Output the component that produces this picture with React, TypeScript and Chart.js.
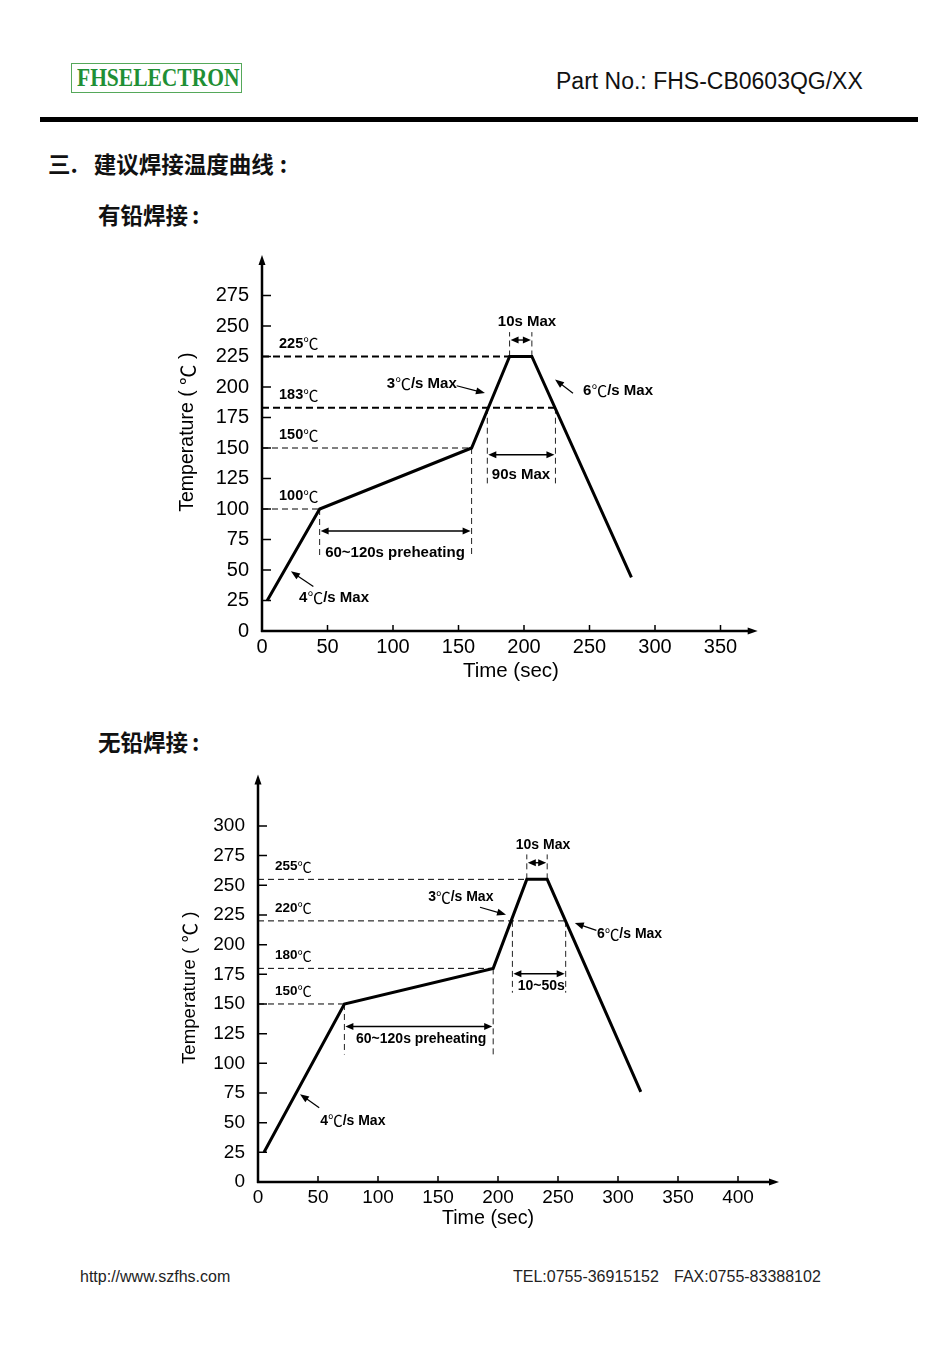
import React, { useEffect, useRef } from "react";
import { Chart, registerables } from "chart.js";

Chart.register(...registerables);

// ---- Leaded (Sn-Pb) reflow profile ----
const leadTimes = [4, 44, 160, 189, 206, 282];
const leadTemps = [25, 100, 150, 225, 225, 44];
const leadXTicks = [0, 50, 100, 150, 200, 250, 300, 350];
const leadYTicks = [0, 25, 50, 75, 100, 125, 150, 175, 200, 225, 250, 275];
const leadLevels = [225, 183, 150, 100];
const leadLevelEnds = [189, 224, 160, 44];
const leadHeavyLevels = [225, 183];

// ---- Lead-free reflow profile ----
const freeTimes = [5, 72, 196, 224, 241, 319];
const freeTemps = [25, 150, 180, 255, 255, 76];
const freeXTicks = [0, 50, 100, 150, 200, 250, 300, 350, 400];
const freeYTicks = [0, 25, 50, 75, 100, 125, 150, 175, 200, 225, 250, 275, 300];
const freeLevels = [255, 220, 180, 150];
const freeLevelEnds = [224, 257, 196, 72];
const freeHeavyLevels: number[] = [];

const SANS = '"Liberation Sans", Arial, "Noto Sans CJK SC", sans-serif';
const CJK = '"Noto Sans CJK SC", "Noto Sans CJK TC", sans-serif';

type Note = { text: string; t: number; v: number };

interface Profile {
  times: number[];
  temps: number[];
  xTicks: number[];
  yTicks: number[];
  xMax: number;
  yMax: number;
  levels: number[];
  levelEnds: number[];
  heavy: number[];
  drops: number[][]; // [time, fromTemp, toTemp]
  spans: number[][]; // [t1, t2, temp]
  pointers: number[][]; // [tailT, tailV, tipT, tipV]
  notes: Note[];
  noteSize: number;
  tickSize: number;
  titleSize: number;
  yTitleDx: number;
  yTitleAt: number;
  xTitleAt: number;
  xTitleDy: number;
  pad: { top: number; right: number };
  yWidth: number;
  xHeight: number;
  lineWidth: number;
}

const leadProfile: Profile = {
  times: leadTimes,
  temps: leadTemps,
  xTicks: leadXTicks,
  yTicks: leadYTicks,
  xMax: 370,
  yMax: 300,
  levels: leadLevels,
  levelEnds: leadLevelEnds,
  heavy: leadHeavyLevels,
  drops: [
    [44, 100, 61],
    [160, 150, 61],
    [172, 183, 121],
    [224, 183, 121],
    [189, 225, 245],
    [206, 225, 245],
  ],
  spans: [
    [44, 160, 82],
    [172, 224, 144.5],
    [189, 206, 238.5],
  ],
  pointers: [
    [148.6, 201, 170.2, 195],
    [237.4, 194.8, 223.7, 206.2],
    [39.2, 36.5, 22.1, 48.9],
  ],
  notes: [
    { text: "10s Max", t: 202.3, v: 253 },
    { text: "90s Max", t: 197.7, v: 128 },
    { text: "60~120s preheating", t: 101.5, v: 64 },
    { text: "3℃/s Max", t: 122, v: 202.3 },
    { text: "6℃/s Max", t: 271.8, v: 197 },
    { text: "4℃/s Max", t: 55, v: 26.8 },
  ],
  noteSize: 15,
  tickSize: 20,
  titleSize: 19.5,
  yTitleDx: -74,
  yTitleAt: 163,
  xTitleAt: 190,
  xTitleDy: 40,
  pad: { top: 21.4, right: 23.3 },
  yWidth: 112,
  xHeight: 69,
  lineWidth: 3,
};

const freeProfile: Profile = {
  times: freeTimes,
  temps: freeTemps,
  xTicks: freeXTicks,
  yTicks: freeYTicks,
  xMax: 425,
  yMax: 335,
  levels: freeLevels,
  levelEnds: freeLevelEnds,
  heavy: freeHeavyLevels,
  drops: [
    [72, 150, 107.4],
    [196, 180, 107.4],
    [212, 220, 159.5],
    [256.4, 220, 159.5],
    [224, 255, 276],
    [241, 255, 276],
  ],
  spans: [
    [72, 196, 131],
    [212, 256.4, 175.5],
    [224, 241, 269],
  ],
  pointers: [
    [185, 231.5, 206.7, 225.2],
    [282, 212, 264, 218.2],
    [51, 62.5, 35, 74],
  ],
  notes: [
    { text: "10s Max", t: 237.5, v: 284 },
    { text: "10~50s", t: 236, v: 165 },
    { text: "60~120s preheating", t: 136, v: 120 },
    { text: "3℃/s Max", t: 169, v: 240 },
    { text: "6℃/s Max", t: 309.6, v: 208.5 },
    { text: "4℃/s Max", t: 79, v: 51.5 },
  ],
  noteSize: 14,
  tickSize: 19,
  titleSize: 18.7,
  yTitleDx: -68,
  yTitleAt: 163.6,
  xTitleAt: 191.7,
  xTitleDy: 37,
  pad: { top: 19, right: 22 },
  yWidth: 108,
  xHeight: 58,
  lineWidth: 3,
};

function arrowHead(
  ctx: CanvasRenderingContext2D,
  x: number,
  y: number,
  ang: number,
  len: number,
  half: number
) {
  const c = Math.cos(ang);
  const s = Math.sin(ang);
  ctx.beginPath();
  ctx.moveTo(x, y);
  ctx.lineTo(x - len * c + half * s, y - len * s - half * c);
  ctx.lineTo(x - len * c - half * s, y - len * s + half * c);
  ctx.closePath();
  ctx.fill();
}

// Writes text whose degree-Celsius sign comes from the CJK face.
function fillMixed(
  ctx: CanvasRenderingContext2D,
  text: string,
  x: number,
  y: number,
  size: number,
  weight: string,
  align: "left" | "center"
) {
  const parts = text.split(/(℃)/).filter((s) => s.length > 0);
  const fontOf = (s: string) =>
    s === "℃" ? `normal ${size * 1.05}px ${CJK}` : `${weight} ${size}px ${SANS}`;
  const widths = parts.map((s) => {
    ctx.font = fontOf(s);
    return ctx.measureText(s).width;
  });
  const total = widths.reduce((a, b) => a + b, 0);
  let cx = align === "center" ? x - total / 2 : x;
  ctx.textAlign = "left";
  ctx.textBaseline = "middle";
  parts.forEach((s, i) => {
    ctx.font = fontOf(s);
    ctx.fillText(s, cx, y);
    cx += widths[i];
  });
}

function profileMarks(p: Profile) {
  return {
    id: "profileMarks",
    beforeDatasetsDraw(chart: any) {
      const ctx: CanvasRenderingContext2D = chart.ctx;
      const xs = chart.scales.x;
      const ys = chart.scales.y;
      const X = (v: number) => xs.getPixelForValue(v);
      const Y = (v: number) => ys.getPixelForValue(v);
      ctx.save();
      ctx.strokeStyle = "#000";
      ctx.fillStyle = "#000";

      // dashed temperature levels with their labels
      p.levels.forEach((lv, i) => {
        const heavy = p.heavy.includes(lv);
        ctx.lineWidth = heavy ? 2 : 1;
        ctx.setLineDash(heavy ? [7, 4] : [6, 4]);
        ctx.beginPath();
        ctx.moveTo(X(0), Y(lv));
        ctx.lineTo(X(p.levelEnds[i]), Y(lv));
        ctx.stroke();
        ctx.setLineDash([]);
        fillMixed(ctx, `${lv}℃`, X(0) + 17, Y(lv) - 13, p.noteSize - 0.5, "bold", "left");
      });

      // vertical dashed guides
      ctx.lineWidth = 1;
      ctx.strokeStyle = "#222";
      ctx.setLineDash([6, 4]);
      p.drops.forEach(([t, a, b]) => {
        ctx.beginPath();
        ctx.moveTo(X(t), Y(a));
        ctx.lineTo(X(t), Y(b));
        ctx.stroke();
      });
      ctx.setLineDash([]);
      ctx.strokeStyle = "#000";

      // double-headed duration arrows
      ctx.lineWidth = 1.4;
      p.spans.forEach(([t1, t2, v]) => {
        const x1 = X(t1) + 1;
        const x2 = X(t2) - 1;
        const y = Y(v);
        ctx.beginPath();
        ctx.moveTo(x1 + 4, y);
        ctx.lineTo(x2 - 4, y);
        ctx.stroke();
        arrowHead(ctx, x1, y, Math.PI, 8, 3.5);
        arrowHead(ctx, x2, y, 0, 8, 3.5);
      });

      // slope pointers
      ctx.lineWidth = 1.2;
      p.pointers.forEach(([ta, va, tb, vb]) => {
        const xa = X(ta);
        const ya = Y(va);
        const xb = X(tb);
        const yb = Y(vb);
        const ang = Math.atan2(yb - ya, xb - xa);
        ctx.beginPath();
        ctx.moveTo(xa, ya);
        ctx.lineTo(xb - 5 * Math.cos(ang), yb - 5 * Math.sin(ang));
        ctx.stroke();
        arrowHead(ctx, xb, yb, ang, 9, 3.5);
      });

      // annotations
      p.notes.forEach((n) => fillMixed(ctx, n.text, X(n.t), Y(n.v), p.noteSize, "bold", "center"));
      ctx.restore();
    },
    afterDatasetsDraw(chart: any) {
      const ctx: CanvasRenderingContext2D = chart.ctx;
      const xs = chart.scales.x;
      const ys = chart.scales.y;
      const X = (v: number) => xs.getPixelForValue(v);
      const Y = (v: number) => ys.getPixelForValue(v);
      const area = chart.chartArea;
      const x0 = X(0);
      const y0 = Y(0);
      ctx.save();
      ctx.strokeStyle = "#000";
      ctx.fillStyle = "#000";
      ctx.lineWidth = 2.5;
      // axes with arrow tips
      ctx.beginPath();
      ctx.moveTo(x0, y0 + 1);
      ctx.lineTo(x0, area.top - 4);
      ctx.moveTo(x0 - 1, y0);
      ctx.lineTo(area.right + 4, y0);
      ctx.stroke();
      arrowHead(ctx, x0, area.top - 10, -Math.PI / 2, 10, 3.5);
      arrowHead(ctx, area.right + 11, y0, 0, 10, 3.5);
      // inner tick marks
      ctx.lineWidth = 1.5;
      ctx.beginPath();
      p.yTicks.forEach((v) => {
        if (v === 0) return;
        ctx.moveTo(x0, Y(v));
        ctx.lineTo(x0 + 9, Y(v));
      });
      p.xTicks.forEach((v) => {
        if (v === 0) return;
        ctx.moveTo(X(v), y0);
        ctx.lineTo(X(v), y0 - 6);
      });
      ctx.stroke();
      // axis titles
      ctx.textAlign = "center";
      ctx.textBaseline = "middle";
      ctx.font = `${p.titleSize + 1}px ${SANS}`;
      ctx.fillText("Time (sec)", X(p.xTitleAt), y0 + p.xTitleDy);
      ctx.save();
      ctx.translate(x0 + p.yTitleDx, Y(p.yTitleAt));
      ctx.rotate(-Math.PI / 2);
      fillMixed(ctx, "Temperature ( ℃ )", 0, 0, p.titleSize, "normal", "center");
      ctx.restore();
      ctx.restore();
    },
  };
}

function buildChart(canvas: HTMLCanvasElement, p: Profile) {
  return new Chart(canvas, {
    type: "scatter",
    data: {
      datasets: [
        {
          data: p.times.map((t, i) => ({ x: t, y: p.temps[i] })),
          showLine: true,
          borderColor: "#000",
          borderWidth: p.lineWidth,
          pointRadius: 0,
          tension: 0,
          clip: false,
          borderJoinStyle: "miter",
        } as any,
      ],
    },
    options: {
      animation: false,
      responsive: false,
      maintainAspectRatio: false,
      events: [],
      layout: { padding: { top: p.pad.top, right: p.pad.right, left: 0, bottom: 0 } },
      plugins: { legend: { display: false }, tooltip: { enabled: false } },
      scales: {
        x: {
          type: "linear",
          min: 0,
          max: p.xMax,
          grid: { display: false, drawTicks: false },
          border: { display: false },
          afterBuildTicks: (s: any) => {
            s.ticks = p.xTicks.map((v) => ({ value: v }));
          },
          afterFit: (s: any) => {
            s.height = p.xHeight;
          },
          ticks: {
            autoSkip: false,
            maxRotation: 0,
            padding: 4,
            color: "#000",
            font: { family: SANS, size: p.tickSize },
            callback: (v: any) => String(v),
          },
        },
        y: {
          type: "linear",
          min: 0,
          max: p.yMax,
          grid: { display: false, drawTicks: false },
          border: { display: false },
          afterBuildTicks: (s: any) => {
            s.ticks = p.yTicks.map((v) => ({ value: v }));
          },
          afterFit: (s: any) => {
            s.width = p.yWidth;
          },
          ticks: {
            autoSkip: false,
            padding: 13,
            color: "#000",
            font: { family: SANS, size: p.tickSize },
            callback: (v: any) => String(v),
          },
        },
      },
    } as any,
    plugins: [profileMarks(p)],
  });
}

const abs = (left: number, top: number, extra: React.CSSProperties = {}): React.CSSProperties => ({
  position: "absolute",
  left,
  top,
  whiteSpace: "nowrap",
  lineHeight: 1,
  ...extra,
});

const heading: React.CSSProperties = {
  fontFamily: CJK,
  fontSize: 22.5,
  fontWeight: 600,
  color: "#111",
};

export default function App() {
  const leadRef = useRef<HTMLCanvasElement>(null);
  const freeRef = useRef<HTMLCanvasElement>(null);

  useEffect(() => {
    const a = buildChart(leadRef.current!, leadProfile);
    const b = buildChart(freeRef.current!, freeProfile);
    return () => {
      a.destroy();
      b.destroy();
    };
  }, []);

  return (
    <div
      style={{
        position: "absolute",
        left: 0,
        top: 0,
        width: 950,
        height: 1345,
        background: "#fff",
        overflow: "hidden",
      }}
    >
      {/* header */}
      <div
        style={abs(71, 63, {
          width: 171,
          height: 30,
          boxSizing: "border-box",
          border: "1.5px solid #55a85a",
          overflow: "hidden",
        })}
      >
        <span
          style={{
            position: "absolute",
            left: 5,
            top: 0,
            fontFamily: '"Liberation Serif", "Times New Roman", serif',
            fontWeight: "bold",
            fontSize: 25,
            lineHeight: "28px",
            color: "#1f8f35",
            transform: "scaleX(0.86)",
            transformOrigin: "left center",
            display: "inline-block",
          }}
        >
          FHSELECTRON
        </span>
      </div>
      <div style={abs(556, 70, { fontFamily: SANS, fontSize: 23, color: "#111" })}>
        Part No.: FHS-CB0603QG/XX
      </div>
      <div style={abs(40, 117, { width: 878, height: 5, background: "#000" })} />

      {/* section headings */}
      <div style={abs(48, 152, heading)}>
        三.<span style={{ marginLeft: 16 }}>建议焊接温度曲线</span>
        <span style={{ marginLeft: 6 }}>:</span>
      </div>
      <div style={abs(98, 203, heading)}>
        有铅焊接<span style={{ marginLeft: 4 }}>:</span>
      </div>
      <div style={abs(98, 730, heading)}>
        无铅焊接<span style={{ marginLeft: 4 }}>:</span>
      </div>

      {/* profiles */}
      <canvas
        ref={leadRef}
        width={620}
        height={460}
        style={{ position: "absolute", left: 150, top: 240, width: 620, height: 460 }}
      />
      <canvas
        ref={freeRef}
        width={640}
        height={480}
        style={{ position: "absolute", left: 150, top: 760, width: 640, height: 480 }}
      />

      {/* footer */}
      <div style={abs(80, 1269, { fontFamily: SANS, fontSize: 16, color: "#222" })}>http://www.szfhs.com</div>
      <div style={abs(513, 1269, { fontFamily: SANS, fontSize: 16, color: "#222" })}>TEL:0755-36915152</div>
      <div style={abs(674, 1269, { fontFamily: SANS, fontSize: 16, color: "#222" })}>FAX:0755-83388102</div>
    </div>
  );
}
